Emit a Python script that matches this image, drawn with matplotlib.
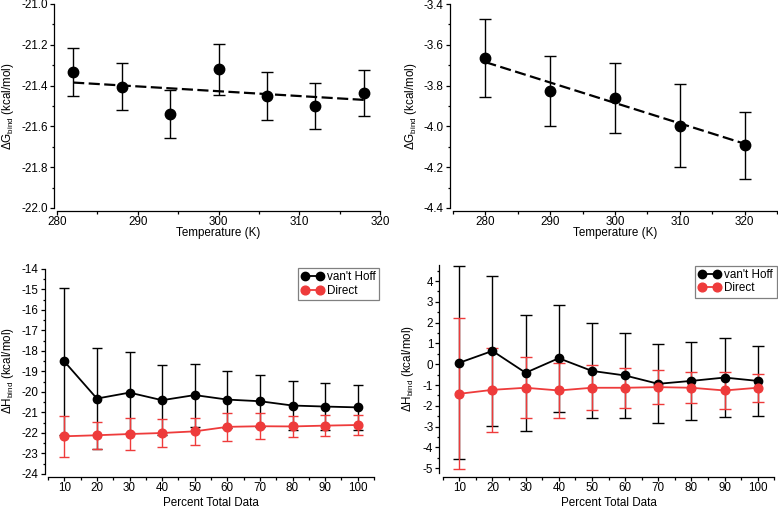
import matplotlib
matplotlib.use('Agg')
import matplotlib.pyplot as plt
from matplotlib.ticker import MultipleLocator, FormatStrFormatter

plt.rcParams['font.family'] = ['Liberation Sans', 'DejaVu Sans']
plt.rcParams['mathtext.fontset'] = 'custom'
plt.rcParams['mathtext.rm'] = 'Liberation Sans'
plt.rcParams['axes.unicode_minus'] = False

# top left: dG vs temperature
temp_a = [282, 288, 294, 300, 306, 312, 318]
dg_a = [-21.335, -21.405, -21.54, -21.32, -21.45, -21.50, -21.435]
dg_a_err = [0.117, 0.117, 0.118, 0.125, 0.117, 0.113, 0.112]
fit_a_x = [282, 318]
fit_a_y = [-21.385, -21.47]

# top right
temp_b = [280, 290, 300, 310, 320]
dg_b = [-3.665, -3.826, -3.86, -3.997, -4.093]
dg_b_err = [0.193, 0.17, 0.173, 0.203, 0.165]
fit_b_x = [280, 320]
fit_b_y = [-3.685, -4.085]

pct = [10, 20, 30, 40, 50, 60, 70, 80, 90, 100]

# bottom left: dH
vh_c = [-18.51, -20.32, -20.03, -20.40, -20.15, -20.37, -20.45, -20.66, -20.71, -20.75]
vh_c_err = [3.6, 2.47, 1.97, 1.70, 1.54, 1.38, 1.27, 1.20, 1.14, 1.08]
dir_c = [-22.16, -22.11, -22.05, -22.00, -21.92, -21.70, -21.67, -21.68, -21.64, -21.61]
dir_c_err = [1.01, 0.65, 0.79, 0.70, 0.66, 0.68, 0.64, 0.52, 0.53, 0.48]

# bottom right
vh_d = [0.07, 0.64, -0.41, 0.29, -0.32, -0.54, -0.94, -0.80, -0.64, -0.80]
vh_d_err = [4.63, 3.59, 2.78, 2.57, 2.28, 2.05, 1.90, 1.89, 1.91, 1.70]
dir_d = [-1.42, -1.23, -1.13, -1.26, -1.13, -1.13, -1.10, -1.13, -1.26, -1.13]
dir_d_err = [3.62, 2.03, 1.47, 1.30, 1.07, 0.97, 0.82, 0.75, 0.87, 0.67]

labels = ["van't Hoff", 'Direct']
red = '#ee3b3b'
W, H = 778, 509
fs = 8.4

fig = plt.figure(figsize=(W / 100, H / 100), dpi=100)


def make_ax(x0, x1, y0, y1):
    ax = fig.add_axes([x0 / W, 1 - y1 / H, (x1 - x0) / W, (y1 - y0) / H])
    for s in ['top', 'right']:
        ax.spines[s].set_visible(False)
    for s in ['left', 'bottom']:
        ax.spines[s].set_position(('outward', 2.4))
        ax.spines[s].set_linewidth(0.9)
    ax.tick_params(which='major', direction='out', length=3.2, width=0.9,
                   labelsize=fs, pad=1.2)
    ax.tick_params(axis='x', which='major', pad=0.3)
    ax.tick_params(which='minor', direction='out', length=1.8, width=0.9)
    return ax


def place_labels(ax, xl, yl, x_center, xl_top, yl_x, y_center):
    ax.set_xlabel(xl, fontsize=fs)
    ax.set_ylabel(yl, fontsize=fs)
    ax.xaxis.set_label_coords(x_center / W, 1 - xl_top / H, transform=fig.transFigure)
    ax.yaxis.set_label_coords(yl_x / W, 1 - y_center / H, transform=fig.transFigure)


def legend(ax, e1, e2, right, top):
    leg = ax.legend([e1[0], e2[0]], labels, numpoints=2, fontsize=fs,
                    loc='upper right', bbox_to_anchor=(right / W, 1 - top / H),
                    bbox_transform=fig.transFigure, borderaxespad=0,
                    fancybox=False, edgecolor='#808080', framealpha=1,
                    borderpad=0.3, handlelength=1.9, handletextpad=0.3,
                    labelspacing=0.1)
    leg.get_frame().set_linewidth(0.9)


dg_label = r'$\Delta$G$_{\rm bind}$ (kcal/mol)'
dh_label = r'$\Delta$H$_{\rm bind}$ (kcal/mol)'

# A
ax = make_ax(57, 380, 4, 208)
ax.plot(fit_a_x, fit_a_y, color='black', lw=1.6, ls=(0, (5, 2)))
ax.errorbar(temp_a, dg_a, yerr=dg_a_err, fmt='o', color='black', ms=7.5,
            capsize=4.3, elinewidth=1.0, capthick=1.0)
ax.set_xlim(280, 320)
ax.set_ylim(-22.0, -21.0)
ax.xaxis.set_major_locator(MultipleLocator(10))
ax.xaxis.set_minor_locator(MultipleLocator(5))
ax.yaxis.set_major_locator(MultipleLocator(0.2))
ax.yaxis.set_minor_locator(MultipleLocator(0.1))
ax.yaxis.set_major_formatter(FormatStrFormatter('%.1f'))
place_labels(ax, 'Temperature (K)', dg_label, (57 + 380) / 2, 227, 16, 106)

# B
ax = make_ax(453, 777, 4, 208)
ax.plot(fit_b_x, fit_b_y, color='black', lw=1.6, ls=(0, (5, 2)))
ax.errorbar(temp_b, dg_b, yerr=dg_b_err, fmt='o', color='black', ms=7.5,
            capsize=4.3, elinewidth=1.0, capthick=1.0)
ax.set_xlim(275, 325)
ax.set_ylim(-4.4, -3.4)
ax.xaxis.set_major_locator(MultipleLocator(10))
ax.xaxis.set_minor_locator(MultipleLocator(5))
ax.yaxis.set_major_locator(MultipleLocator(0.2))
ax.yaxis.set_minor_locator(MultipleLocator(0.1))
ax.yaxis.set_major_formatter(FormatStrFormatter('%.1f'))
place_labels(ax, 'Temperature (K)', dg_label, (453 + 777) / 2, 227, 419, 106)

# C
ax = make_ax(48, 374, 269, 474)
e1 = ax.errorbar(pct, vh_c, yerr=vh_c_err, fmt='-o', color='black', ms=6,
                 lw=1.3, capsize=3.5, elinewidth=1.0, capthick=1.0)
e2 = ax.errorbar(pct, dir_c, yerr=dir_c_err, fmt='-o', color=red, ms=6.3,
                 lw=1.3, capsize=3.5, elinewidth=1.0, capthick=1.0)
ax.set_xlim(5, 105)
ax.set_ylim(-24, -14)
ax.xaxis.set_major_locator(MultipleLocator(10))
ax.xaxis.set_minor_locator(MultipleLocator(5))
ax.yaxis.set_major_locator(MultipleLocator(1))
ax.yaxis.set_minor_locator(MultipleLocator(0.5))
place_labels(ax, 'Percent Total Data', dh_label, (48 + 374) / 2, 496.5, 16, 371)
legend(ax, e1, e2, 379, 268)

# D
ax = make_ax(442.7, 774.3, 265.4, 473.5)
e1 = ax.errorbar(pct, vh_d, yerr=vh_d_err, fmt='-o', color='black', ms=6,
                 lw=1.3, capsize=4.0, elinewidth=1.0, capthick=1.0)
e2 = ax.errorbar(pct, dir_d, yerr=dir_d_err, fmt='-o', color=red, ms=6.3,
                 lw=1.3, capsize=4.0, elinewidth=1.0, capthick=1.0)
ax.set_xlim(5, 105)
ax.set_ylim(-5.25, 4.75)
ax.xaxis.set_major_locator(MultipleLocator(10))
ax.xaxis.set_minor_locator(MultipleLocator(5))
ax.yaxis.set_major_locator(MultipleLocator(1))
ax.yaxis.set_minor_locator(MultipleLocator(0.5))
place_labels(ax, 'Percent Total Data', dh_label, (442.7 + 774.3) / 2, 496.5, 416, 369)
legend(ax, e1, e2, 776.5, 265.7)

plt.savefig('out.png', dpi=100)
